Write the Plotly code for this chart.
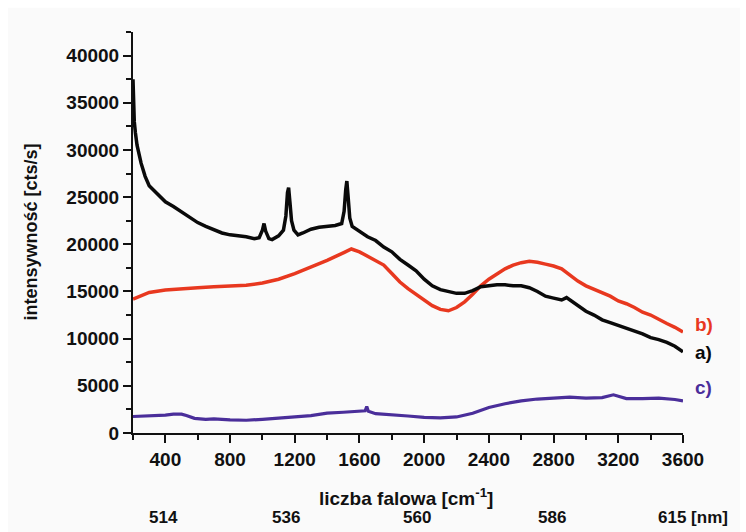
import plotly.graph_objects as go

# ---- data ----
a_x = [200, 203, 208, 215, 225, 250, 275, 300, 350, 400, 450, 500, 550, 600, 650, 700, 750, 800,
       850, 900, 950, 980, 1000, 1010, 1020, 1040, 1060, 1100, 1130, 1145, 1155, 1162, 1170, 1180,
       1195, 1220, 1250, 1300, 1350, 1400, 1450, 1490, 1505, 1515, 1522, 1530, 1540, 1555, 1600,
       1650, 1700, 1750, 1800, 1850, 1900, 1950, 2000, 2050, 2100, 2150, 2200, 2250, 2300, 2350,
       2400, 2450, 2500, 2550, 2600, 2650, 2700, 2750, 2800, 2850, 2880, 2920, 2950, 3000, 3050,
       3100, 3150, 3200, 3250, 3300, 3350, 3400, 3450, 3500, 3550, 3600]
a_y = [37500, 35500, 33000, 31800, 30500, 28600, 27200, 26200, 25300, 24500, 24000, 23400, 22900,
       22300, 21900, 21500, 21200, 21000, 20900, 20800, 20600, 20700, 21500, 22200, 21400, 20600,
       20500, 20900, 21500, 23000, 25500, 26000, 24500, 22500, 21500, 21000, 21200, 21600, 21800,
       21900, 22000, 22200, 23500, 25800, 26700, 25000, 22800, 21900, 21400, 20800, 20400, 19700,
       19200, 18400, 17800, 17200, 16300, 15600, 15200, 15000, 14800, 14800, 15100, 15500, 15600,
       15700, 15700, 15600, 15600, 15400, 15000, 14500, 14300, 14100, 14350, 13900, 13500, 12900,
       12500, 12000, 11700, 11400, 11100, 10800, 10500, 10100, 9900, 9600, 9200, 8600]

b_x = [200, 250, 300, 400, 500, 600, 700, 800, 900, 1000, 1100, 1200, 1300, 1400, 1500, 1550,
       1600, 1700, 1750, 1800, 1850, 1900, 1950, 2000, 2050, 2100, 2150, 2200, 2250, 2300, 2350,
       2400, 2450, 2500, 2550, 2600, 2650, 2700, 2750, 2800, 2850, 2900, 2950, 3000, 3050, 3100,
       3150, 3200, 3250, 3300, 3350, 3400, 3450, 3500, 3550, 3600]
b_y = [14200, 14600, 14900, 15150, 15300, 15400, 15500, 15550, 15650, 15900, 16300, 16900, 17600,
       18300, 19100, 19500, 19200, 18300, 17800, 16900, 16000, 15300, 14700, 14000, 13500, 13100,
       12950, 13300, 13900, 14700, 15600, 16300, 16900, 17400, 17800, 18050, 18200, 18100, 17900,
       17700, 17400, 16700, 16100, 15600, 15250, 14900, 14500, 14000, 13700, 13300, 12800, 12500,
       12000, 11600, 11200, 10700]

c_x = [200, 300, 400, 450, 500, 530, 580, 650, 700, 800, 900, 1000, 1100, 1200, 1300, 1400, 1500,
       1600, 1635, 1645, 1655, 1700, 1800, 1900, 2000, 2100, 2200, 2300, 2400, 2500, 2600, 2700,
       2800, 2900, 3000, 3100, 3170, 3250, 3350, 3450, 3550, 3600]
c_y = [1750, 1800, 1900, 2000, 2000, 1850, 1550, 1450, 1500, 1400, 1350, 1450, 1550, 1700, 1850,
       2100, 2200, 2300, 2350, 2800, 2300, 2050, 1950, 1800, 1650, 1600, 1700, 2100, 2700, 3100,
       3400, 3600, 3700, 3800, 3700, 3750, 4050, 3650, 3650, 3700, 3550, 3400]

series_labels = ["a)", "b)", "c)"]
label_y = [8500, 11500, 4800]          # vertical placement of the curve labels
nm_labels = ["514", "536", "560", "586", "615 [nm]"]
nm_pos = [390, 1143, 1957, 2791, 3435]  # wavenumber positions of the nm scale labels

BLACK = "#0a0a0a"
RED = "#e8381f"
PURPLE = "#4a2e9a"
FONT = "Liberation Sans, Arial, sans-serif"

fig = go.Figure()
fig.add_trace(go.Scatter(x=b_x, y=b_y, mode="lines", line=dict(color=RED, width=3.5)))
fig.add_trace(go.Scatter(x=a_x, y=a_y, mode="lines", line=dict(color=BLACK, width=3.5)))
fig.add_trace(go.Scatter(x=c_x, y=c_y, mode="lines", line=dict(color=PURPLE, width=3.2)))

for lab, yy, col in zip(series_labels, label_y, [BLACK, RED, PURPLE]):
    fig.add_annotation(x=3600, y=yy, xref="x", yref="y", text=lab, showarrow=False,
                       xanchor="left", xshift=10,
                       font=dict(family=FONT, size=19, color=col, weight="bold"))

for lab, xx in zip(nm_labels, nm_pos):
    fig.add_annotation(x=xx, y=-0.211, xref="x", yref="paper", text=lab, showarrow=False,
                       xanchor="left" if "nm" in lab else "center", yanchor="middle",
                       font=dict(family=FONT, size=17, color="#111", weight="bold"))

fig.add_annotation(x=(30 - 133) / 550, y=0.5, xref="paper", yref="paper",
                   text="intensywność [cts/s]", textangle=-90, showarrow=False,
                   xanchor="center", yanchor="middle",
                   font=dict(family=FONT, size=18, color="#111", weight="bold"))
fig.add_annotation(x=0.497, y=(433.3 - 497) / 401, xref="paper", yref="paper",
                   text="liczba falowa [cm<sup>-1</sup>]", showarrow=False,
                   xanchor="center", yanchor="middle",
                   font=dict(family=FONT, size=19, color="#111", weight="bold"))

# light background panel with thin white border
fig.add_shape(type="rect", xref="paper", yref="paper",
              x0=(8 - 133) / 550, x1=(740 - 133) / 550, y0=(433.3 - 540) / 401, y1=(433.3 - 8) / 401,
              fillcolor="#fafafa", line=dict(width=0), layer="below")

fig.update_layout(
    width=746, height=532,
    margin=dict(l=133, r=63, t=32, b=99),
    paper_bgcolor="white", plot_bgcolor="rgba(0,0,0,0)",
    showlegend=False,
    font=dict(family=FONT, color="#111"),
)
fig.update_xaxes(range=[200, 3600], tick0=400, dtick=400, showgrid=False, zeroline=False,
                 showline=True, linecolor="#111", linewidth=2,
                 ticks="outside", ticklen=8, tickwidth=2, tickcolor="#111",
                 minor=dict(ticks="outside", dtick=200, tick0=400, ticklen=5, tickwidth=2, tickcolor="#111"),
                 tickfont=dict(family=FONT, size=19, color="#111", weight="bold"))
fig.update_yaxes(range=[0, 42500], tick0=0, dtick=5000, tickformat="d", showgrid=False, zeroline=False,
                 showline=True, linecolor="#111", linewidth=2,
                 ticks="outside", ticklen=8, tickwidth=2, tickcolor="#111",
                 minor=dict(ticks="outside", dtick=2500, ticklen=5, tickwidth=2, tickcolor="#111"),
                 tickfont=dict(family=FONT, size=19, color="#111", weight="bold"))

fig.write_html("out.html")
